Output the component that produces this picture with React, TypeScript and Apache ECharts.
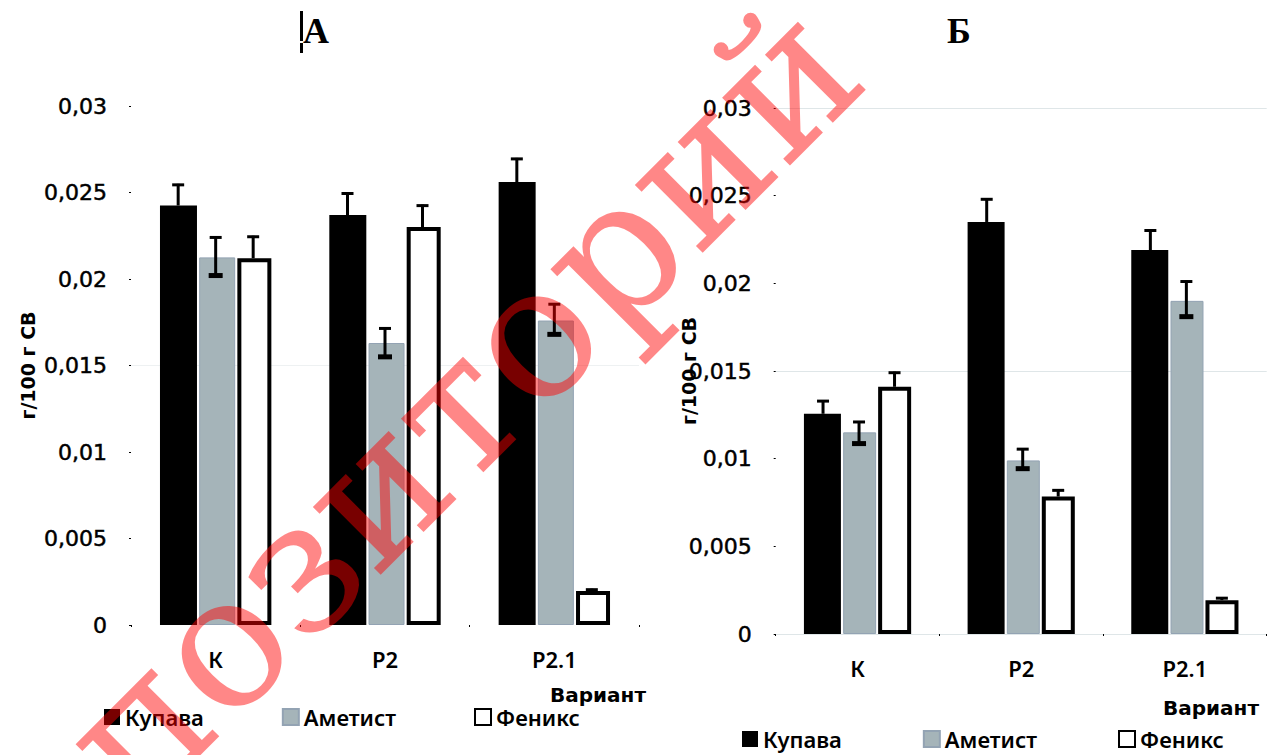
import React, { useEffect, useRef } from "react";
import * as echarts from "echarts";

const categories = ["К", "Р2", "Р2.1"];
const yTickLabels = ["0", "0,005", "0,01", "0,015", "0,02", "0,025", "0,03"];
const seriesNames = ["Купава", "Аметист", "Феникс"];

const kupavaA = [0.02425, 0.0237, 0.0256];
const ametistA = [0.02125, 0.0163, 0.0176];
const feniksA = [0.0212, 0.023, 0.00196];
const kupavaHighA = [0.0255, 0.025, 0.027];
const ametistHighA = [0.02246, 0.0172, 0.0186];
const ametistLowA = [0.0202, 0.0155, 0.0168];
const feniksHighA = [0.0225, 0.0243, 0.0021];

const kupavaB = [0.01256, 0.0235, 0.0219];
const ametistB = [0.0115, 0.0099, 0.019];
const feniksB = [0.0141, 0.00784, 0.00193];
const kupavaHighB = [0.01334, 0.02485, 0.02307];
const ametistHighB = [0.01215, 0.0106, 0.02016];
const ametistLowB = [0.01086, 0.00943, 0.0181];
const feniksHighB = [0.01496, 0.00825, 0.0021];

const FONT = "'DejaVu Sans', sans-serif";
const GREY = "#a5b4b9";
const WA = [37, 36, 34];
const WB = [37, 33, 33];

function barSeries(idx: number, values: number[], widths: number[]) {
  const styles = [
    { color: "#000000" },
    { color: GREY, borderColor: "#93a3b3", borderWidth: 1 },
    { color: "#ffffff", borderColor: "#000000", borderWidth: 4 },
  ];
  return {
    type: "bar",
    name: seriesNames[idx],
    xAxisIndex: widths === WA ? 0 : 1,
    yAxisIndex: widths === WA ? 0 : 1,
    data: values,
    barWidth: widths[idx],
    barGap: 0.06,
    itemStyle: styles[idx],
    z: 2,
  };
}

function errorSeries(
  panel: number,
  offset: number,
  lows: number[],
  highs: number[],
  lowCap: boolean
) {
  return {
    type: "custom",
    name: "err" + panel + offset,
    xAxisIndex: panel,
    yAxisIndex: panel,
    z: 5,
    silent: true,
    data: highs.map((h, i) => [i, lows[i], h]),
    renderItem: (_p: any, api: any) => {
      const c = api.value(0);
      const top = api.coord([c, api.value(2)]);
      const bot = api.coord([c, api.value(1)]);
      const x = top[0] + offset;
      const style = { stroke: "#000", lineWidth: 3, fill: "none" };
      const kids: any[] = [
        { type: "line", shape: { x1: x, y1: top[1], x2: x, y2: bot[1] }, style },
        {
          type: "line",
          shape: { x1: x - 6, y1: top[1] + 1, x2: x + 6, y2: top[1] + 1 },
          style,
        },
      ];
      if (lowCap) {
        kids.push({
          type: "line",
          shape: { x1: x - 7, y1: bot[1], x2: x + 7, y2: bot[1] },
          style: { stroke: "#000", lineWidth: 5 },
        });
      }
      return { type: "group", children: kids };
    },
  };
}

function xAxis(gridIndex: number) {
  return {
    type: "category",
    gridIndex,
    data: categories,
    axisLine: { show: false },
    axisTick: { show: true, length: 2, alignWithLabel: false, lineStyle: { color: "#000" } },
    axisLabel: {
      color: "#000",
      fontFamily: "'Noto Sans', sans-serif",
      fontSize: 22,
      fontWeight: 600,
      margin: 23,
    },
  };
}

function yAxis(gridIndex: number, nameGap: number, gridColors: string[]) {
  return {
    type: "value",
    gridIndex,
    min: 0,
    max: 0.03,
    interval: 0.005,
    name: "г/100 г СВ",
    nameLocation: "middle",
    nameGap,
    nameMoveOverlap: false,
    nameRotate: 90,
    nameTextStyle: { color: "#000", fontFamily: FONT, fontWeight: "bold", fontSize: 19 },
    axisLine: { show: false },
    axisTick: { show: true, length: 2, lineStyle: { color: "#000" } },
    splitLine: { show: true, lineStyle: { color: gridColors, width: 1 } },
    axisLabel: {
      color: "#000",
      fontFamily: FONT,
      fontSize: 22,
      margin: 24,
      textBorderColor: "#000",
      textBorderWidth: 0.5,
      formatter: (_v: number, i: number) => yTickLabels[i],
    },
  };
}

function legend(left: number, top: number, itemGap: number) {
  return {
    left,
    top,
    padding: 0,
    orient: "horizontal",
    itemGap,
    itemWidth: 16,
    itemHeight: 16,
    icon: "rect",
    data: seriesNames,
    selectedMode: false,
    textStyle: {
      color: "#000",
      fontFamily: "'Noto Sans', sans-serif",
      fontSize: 22,
      fontWeight: 600,
      lineHeight: 22,
    },
  };
}

function title(text: string, left: number) {
  return {
    text,
    left,
    top: 8,
    textStyle: {
      color: "#000",
      fontFamily: "'Liberation Serif', serif",
      fontWeight: "bold",
      fontSize: 36,
    },
  };
}

function caption(text: string, x: number, y: number) {
  return {
    type: "text",
    x,
    y,
    z: 6,
    style: {
      text,
      fill: "#000",
      font: "bold 20px 'DejaVu Sans', sans-serif",
      textAlign: "left",
      textVerticalAlign: "middle",
    },
  };
}

export default function App() {
  const ref = useRef<HTMLDivElement>(null);
  useEffect(() => {
    const chart = echarts.init(ref.current!, undefined, { renderer: "svg" });
    chart.setOption({
      animation: false,
      backgroundColor: "#ffffff",
      title: [title("А", 298), title("Б", 942)],
      grid: [
        { left: 131, top: 106, width: 508, height: 519 },
        { left: 775.7, top: 108, width: 491, height: 526 },
      ],
      xAxis: [xAxis(0), xAxis(1)],
      yAxis: [
        yAxis(0, 94, ["#fff", "#fff", "#fff", "#eef1f2", "#fff", "#fff", "#fff"]),
        yAxis(1, 77, ["#dfe6e8", "#fff", "#fff", "#dfe6e8", "#fff", "#fff", "#dfe6e8"]),
      ],
      legend: [legend(104, 706, 78), legend(742, 728, 81)],
      series: [
        barSeries(0, kupavaA, WA),
        barSeries(1, ametistA, WA),
        barSeries(2, feniksA, WA),
        errorSeries(0, -37.5, kupavaA, kupavaHighA, false),
        errorSeries(0, 0, ametistLowA, ametistHighA, true),
        errorSeries(0, 37.5, feniksA, feniksHighA, false),
        barSeries(0, kupavaB, WB),
        barSeries(1, ametistB, WB),
        barSeries(2, feniksB, WB),
        errorSeries(1, -34.5, kupavaB, kupavaHighB, false),
        errorSeries(1, 1.5, ametistLowB, ametistHighB, true),
        errorSeries(1, 37, feniksB, feniksHighB, false),
      ],
      graphic: [
        caption("Вариант", 550, 695),
        caption("Вариант", 1163, 708),
        { type: "rect", z: 6, shape: { x: 300, y: 11, width: 3, height: 30 }, style: { fill: "#000" } },
        { type: "rect", z: 6, shape: { x: 300, y: 43, width: 3, height: 10 }, style: { fill: "#000" } },
        {
          type: "text",
          x: 380,
          y: 485,
          rotation: Math.PI / 4,
          z: 50,
          style: {
            text: "репозиторий",
            fill: "rgba(255,0,0,0.47)",
            font: "185px 'DejaVu Serif', serif",
            textAlign: "center",
            textVerticalAlign: "middle",
          },
        },
      ],
    });
    return () => chart.dispose();
  }, []);
  return (
    <div
      ref={ref}
      style={{ position: "absolute", left: 0, top: 0, width: 1268, height: 755 }}
    />
  );
}
